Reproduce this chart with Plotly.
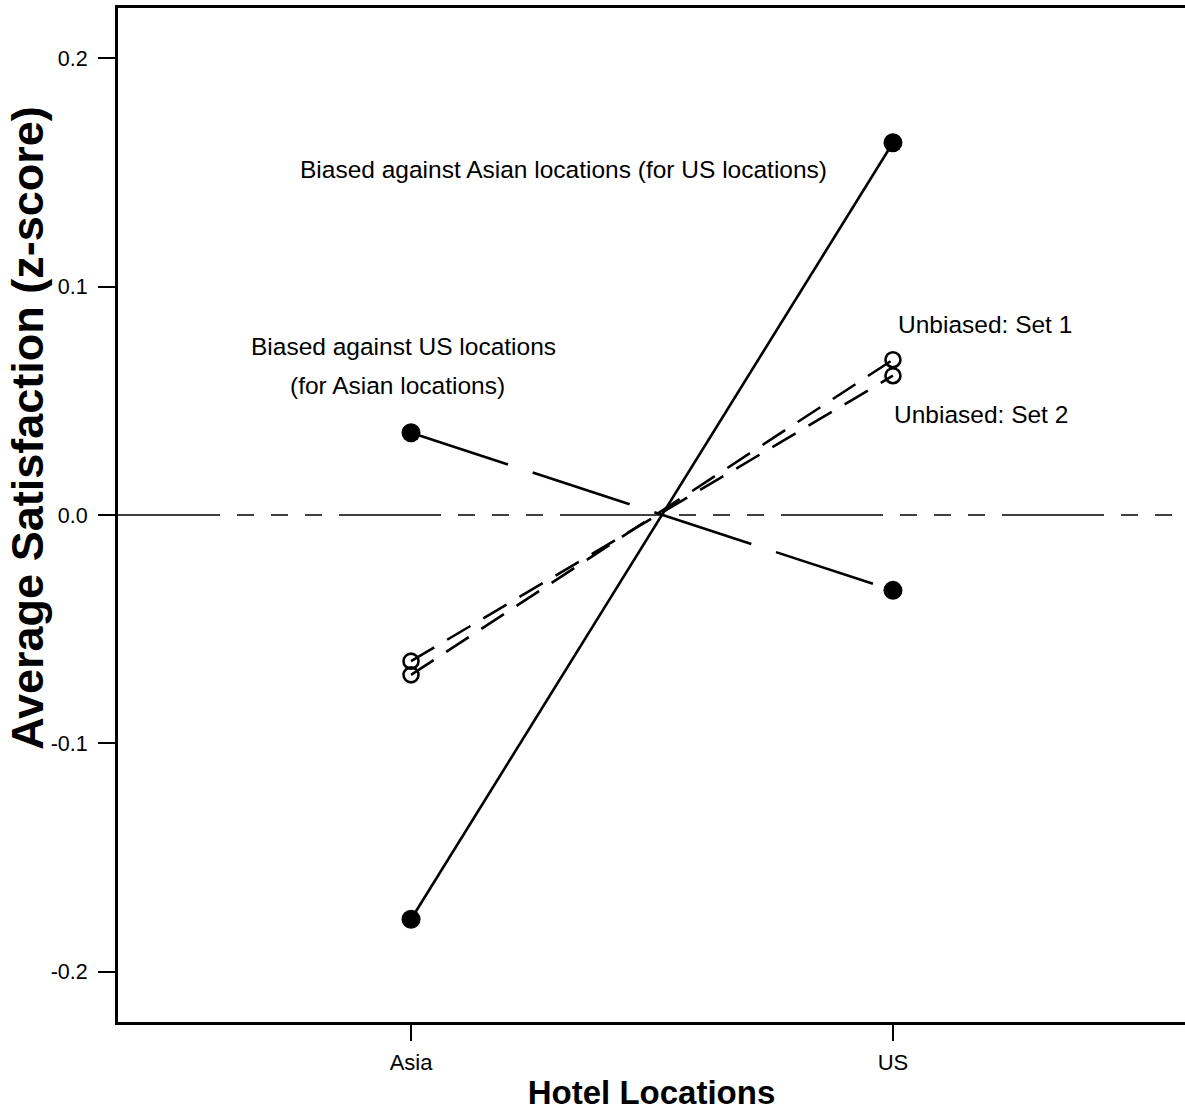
import plotly.graph_objects as go

categories = ["Asia", "US"]
x_pos = [0, 1]
biased_against_asian = [-0.177, 0.163]
biased_against_us = [0.036, -0.033]
unbiased_set1 = [-0.070, 0.068]
unbiased_set2 = [-0.064, 0.061]
y_ticks = [-0.2, -0.1, 0.0, 0.1, 0.2]
y_tick_text = ["-0.2", "-0.1", "0.0", "0.1", "0.2"]

FONT = "Liberation Sans, Arial, sans-serif"

fig = go.Figure()

fig.add_trace(go.Scatter(
    x=x_pos, y=biased_against_asian, mode="lines+markers",
    line=dict(color="black", width=2.6),
    marker=dict(symbol="circle", size=19, color="black"),
    showlegend=False, hoverinfo="skip"))

fig.add_trace(go.Scatter(
    x=x_pos, y=biased_against_us, mode="lines+markers",
    line=dict(color="black", width=2.6, dash="102px,26px"),
    marker=dict(symbol="circle", size=19, color="black"),
    showlegend=False, hoverinfo="skip"))

for ys in (unbiased_set1, unbiased_set2):
    fig.add_trace(go.Scatter(
        x=x_pos, y=ys, mode="lines+markers",
        line=dict(color="black", width=2.6, dash="27px,15px"),
        marker=dict(symbol="circle-open", size=15, color="black",
                    line=dict(width=2.6, color="black")),
        showlegend=False, hoverinfo="skip"))

fig.add_shape(type="line", xref="paper", yref="y", x0=0, x1=1, y0=0, y1=0,
              line=dict(color="black", width=1.5,
                        dash="102px,17px,17px,17px,17px,17px,17px,17px"),
              layer="below")

ann_font = dict(family=FONT, size=24.5, color="black")
fig.add_annotation(x=0.316, y=0.1515, xref="x", yref="y",
                   text="Biased against Asian locations (for US locations)",
                   showarrow=False, font=ann_font, xanchor="center", yanchor="middle")
fig.add_annotation(x=-0.015, y=0.0740, xref="x", yref="y",
                   text="Biased against US locations",
                   showarrow=False, font=ann_font, xanchor="center", yanchor="middle")
fig.add_annotation(x=-0.028, y=0.0569, xref="x", yref="y",
                   text="(for Asian locations)",
                   showarrow=False, font=ann_font, xanchor="center", yanchor="middle")
fig.add_annotation(x=1.007, y=0.0835, xref="x", yref="y", text="Unbiased: Set 1",
                   showarrow=False, font=ann_font, xanchor="left", yanchor="middle")
fig.add_annotation(x=0.998, y=0.044, xref="x", yref="y", text="Unbiased: Set 2",
                   showarrow=False, font=ann_font, xanchor="left", yanchor="middle")

# y-axis title
fig.add_annotation(x=(28 - 118) / (1185 - 118), y=0.586, xref="paper", yref="paper",
                   text="<b>Average Satisfaction (z-score)</b>", textangle=-90,
                   showarrow=False, font=dict(family=FONT, size=45, color="black"),
                   xanchor="center", yanchor="middle")

fig.update_layout(
    width=1185, height=1117,
    margin=dict(l=118, r=0, t=8, b=95),
    paper_bgcolor="white", plot_bgcolor="white",
    font=dict(family=FONT, color="black"),
    hovermode=False,
    xaxis=dict(range=[-0.608, 1.606], tickvals=x_pos, ticktext=categories,
               showgrid=False, zeroline=False, showline=True, linecolor="black",
               linewidth=3, mirror=True, ticks="outside", ticklen=16, tickwidth=2,
               tickcolor="black", tickfont=dict(size=22, family=FONT),
               ticklabelstandoff=3,
               title=dict(text="<b>Hotel Locations</b>", font=dict(size=33, family=FONT),
                          standoff=7)),
    yaxis=dict(range=[-0.222, 0.222], tickvals=y_ticks, ticktext=y_tick_text,
               showgrid=False, zeroline=False, showline=True, linecolor="black",
               linewidth=3, ticks="outside", ticklen=17, tickwidth=2,
               tickcolor="black", tickfont=dict(size=21.5, family=FONT),
               ticklabelstandoff=6),
)

fig.write_html("out.html", config={"displayModeBar": False},
               post_script="document.body.style.margin='0';")
